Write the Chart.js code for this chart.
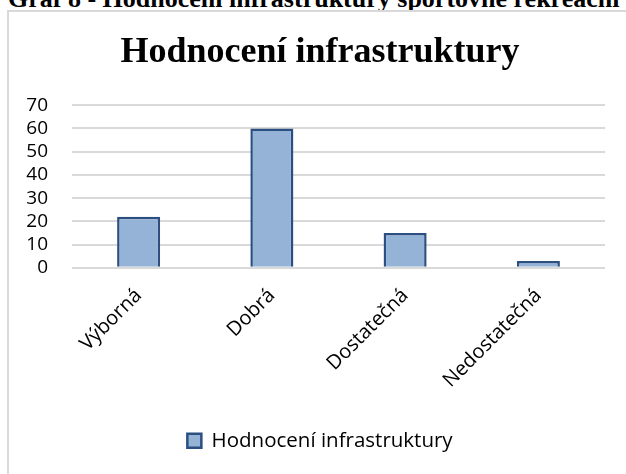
<!DOCTYPE html>
<html>
<head>
<meta charset="utf-8">
<script src="https://cdn.jsdelivr.net/npm/chart.js@4"></script>
<style>
  html, body { margin: 0; padding: 0; background: #fff; overflow: hidden; }
  body { width: 626px; height: 474px; position: relative; }
  #caption {
    position: absolute; left: 8px; top: -14px; white-space: nowrap;
    font: bold 26px/26px "Liberation Serif", "Times New Roman", serif; color: #000;
  }
  #frame {
    position: absolute; left: 7px; top: 10px; width: 700px; height: 500px;
    border-left: 2px solid #d9d9d9; border-top: 2px solid #d9d9d9;
  }
  #wrap { position: absolute; left: 0; top: 0; width: 640px; height: 474px; }
</style>
</head>
<body>
<div id="caption">Graf 8 - Hodnocení infrastruktury sportovně rekreační</div>
<div id="frame"></div>
<div id="wrap"><canvas id="bar-chart"></canvas></div>
<script>
// data
const categories = ['Výborná', 'Dobrá', 'Dostatečná', 'Nedostatečná'];
const values = [22, 60, 15, 3];
const seriesName = 'Hodnocení infrastruktury';
const yTicks = [0, 10, 20, 30, 40, 50, 60, 70];

const sansFont = '"Open Sans", "Noto Sans", sans-serif';

const data = {
  labels: categories,
  datasets: [{
    label: seriesName,
    data: values,
    backgroundColor: '#95b3d7',
    borderColor: '#2a4f80',
    borderWidth: 2.5,
    categoryPercentage: 1,
    barPercentage: 0.323
  }]
};

const config = {
  type: 'bar',
  data,
  options: {
    responsive: true,
    maintainAspectRatio: false,
    animation: false,
    layout: { padding: { bottom: 13 } },
    plugins: {
      title: {
        display: true,
        text: 'Hodnocení infrastruktury',
        color: '#000',
        font: { family: '"Liberation Serif", "Times New Roman", serif', size: 36, weight: 'bold' },
        padding: { top: 31, bottom: 31 }
      },
      legend: {
        position: 'bottom',
        labels: {
          color: '#000',
          font: { family: sansFont, size: 20.5 },
          boxWidth: 14,
          boxHeight: 14,
          padding: 30
        }
      },
      tooltip: { enabled: false }
    },
    scales: {
      x: {
        grid: { display: false },
        border: { display: false },
        ticks: {
          color: '#000',
          font: { family: sansFont, size: 20 },
          minRotation: 45,
          maxRotation: 45,
          padding: 8
        }
      },
      y: {
        min: 0,
        max: 70,
        afterFit(scale) { scale.width = 72; },
        afterBuildTicks(scale) { scale.ticks = yTicks.map(v => ({ value: v })); },
        grid: { color: '#d9d9d9', lineWidth: 2, drawTicks: false },
        border: { display: false },
        ticks: {
          color: '#000',
          font: { family: sansFont, size: 19 },
          padding: 24,
          autoSkip: false
        }
      },
      yRight: {
        position: 'right',
        display: true,
        afterFit(scale) { scale.width = 35; },
        grid: { display: false },
        border: { display: false },
        ticks: { display: false }
      }
    }
  }
};

const barChart = new Chart(document.getElementById('bar-chart'), config);
</script>
</body>
</html>
